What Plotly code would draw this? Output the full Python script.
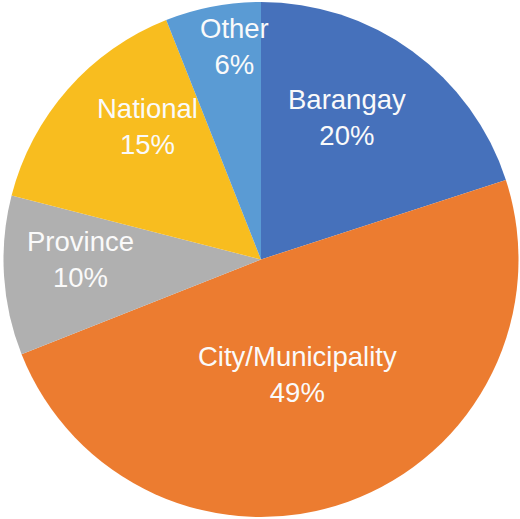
import math
import plotly.graph_objects as go

# Share of responses by level of government
labels = ["Barangay", "City/Municipality", "Province", "National", "Other"]
values = [20, 49, 10, 15, 6]
colors = ["#4671BB", "#EC7C30", "#B0B0B0", "#F8BD1F", "#5A9BD4"]

# Label placement: fraction of the radius and angular nudge (degrees) from slice middle
label_radius = [0.645, 0.47, 0.70, 0.68, 0.835]
label_nudge = [-5.0, 2.0, 3.6, 8.0, 3.6]

W, H = 520, 519
M_L, M_R, M_T, M_B = 2, 0, 2, 2
plot_w = W - M_L - M_R
plot_h = H - M_T - M_B
R = min(plot_w, plot_h) / 2

fig = go.Figure(
    go.Pie(
        labels=labels,
        values=values,
        sort=False,
        direction="clockwise",
        rotation=0,
        marker=dict(colors=colors, line=dict(width=0)),
        textinfo="none",
        showlegend=False,
        hoverinfo="label+percent",
    )
)

# Place the category / percentage labels at each slice's angular position
total = sum(values)
cum = 0
for lab, v, rf, da in zip(labels, values, label_radius, label_nudge):
    mid = (cum + v / 2) / total * 360 + da
    cum += v
    a = math.radians(mid)
    x = 0.5 + rf * R * math.sin(a) / plot_w
    y = 0.5 + rf * R * math.cos(a) / plot_h
    pct = round(v / total * 100)
    fig.add_annotation(
        x=x, y=y, xref="paper", yref="paper",
        text=f"{lab}<br>{pct}%",
        showarrow=False,
        xanchor="center", yanchor="middle",
        align="center",
        font=dict(family="Liberation Sans, Arial, sans-serif", size=27.5, color="#FAFAFA"),
    )

fig.update_layout(
    width=W,
    height=H,
    margin=dict(l=M_L, r=M_R, t=M_T, b=M_B),
    paper_bgcolor="white",
)

fig.write_html("out.html")
